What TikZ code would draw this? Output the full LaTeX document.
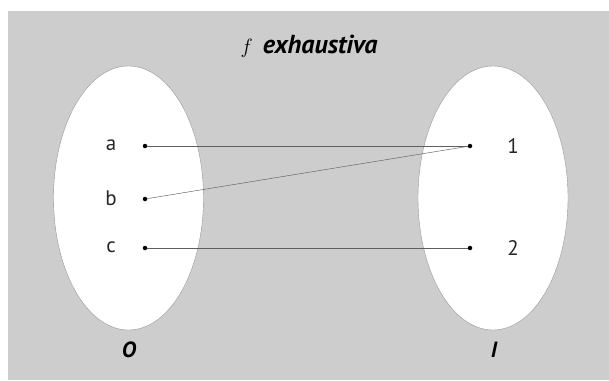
\documentclass[tikz,border=0pt]{standalone}
\usepackage{fontspec}
\setmainfont{PT Sans}
\usepackage{xcolor}
\usetikzlibrary{shapes.geometric, positioning}
\definecolor{mapBg}{RGB}{205,205,205}
\definecolor{mapEdge}{RGB}{150,150,150}
\definecolor{mapLine}{RGB}{95,95,95}

\begin{document}
\begin{tikzpicture}[x=1pt, y=-1pt,
    setbox/.style={ellipse, draw=mapEdge, fill=white, line width=0.4pt,
      minimum width=150pt, minimum height=264pt, inner sep=0pt},
    dot/.style={circle, fill=black, minimum size=4.5pt, inner sep=0pt},
    elem/.style={font=\fontsize{21}{24}\selectfont, text=black!85},
    setname/.style={font=\fontsize{22}{24}\selectfont\bfseries\itshape},
    maparr/.style={draw=mapLine, line width=0.45pt}
  ]
    \useasboundingbox (0,0) rectangle (609,380);
    \fill[mapBg] (8,11) rectangle (609,380);

    \node[font=\fontsize{26}{28}\selectfont\bfseries\itshape, inner sep=0pt] (title) at (309,46)
      {{\fontsize{21}{24}\selectfont$f$}\hspace{10pt}exhaustiva};

    \node[setbox] (setO) at (128.5,198) {};
    \node[setbox] (setI) at (493,198) {};
    \node[setname] (nameO) at (129,350) {O};
    \node[setname] (nameI) at (494,350) {I};

    % domain
    \node[dot] (a) at (145,146) {};
    \node[dot] (b) at (145,199) {};
    \node[dot] (c) at (145,248) {};
    \node[elem] (la) at (111,145) {a};
    \node[elem] (lb) at (111,198) {b};
    \node[elem] (lc) at (111,247) {c};

    % codomain
    \node[dot] (one) at (470,146) {};
    \node[dot] (two) at (470,248) {};
    \node[elem] (l1) at (513,146) {1};
    \node[elem] (l2) at (513,248) {2};

    \draw[maparr] (a) -- (one);
    \draw[maparr] (b) -- (one);
    \draw[maparr] (c) -- (two);
  \end{tikzpicture}
\end{document}
